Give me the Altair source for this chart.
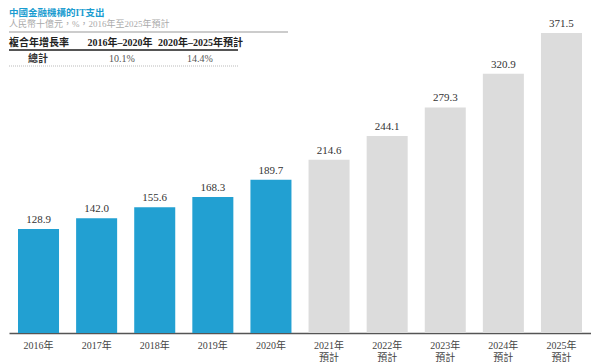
import altair as alt
import pandas as pd

years = ["2016年", "2017年", "2018年", "2019年", "2020年",
         "2021年 預計", "2022年 預計", "2023年 預計", "2024年 預計", "2025年 預計"]
values = [128.9, 142.0, 155.6, 168.3, 189.7, 214.6, 244.1, 279.3, 320.9, 371.5]
kinds = ["實際"] * 5 + ["預計"] * 5

title_text = "中國金融機構的IT支出"
subtitle_text = "人民幣十億元，%，2016年至2025年預計"
table_header = ["複合年增長率", "2016年–2020年", "2020年–2025年預計"]
table_row_label = ["總計"]
table_row_values = ["10.1%", "14.4%"]

SERIF = "Liberation Serif, DejaVu Serif, Noto Sans CJK TC"

df = pd.DataFrame({"year": years, "value": values, "kind": kinds})

W, H = 582, 325
YMAX = 371.5 * H / 300

x = alt.X("year:N", sort=years, title=None,
          scale=alt.Scale(paddingInner=0.294, paddingOuter=0.155),
          axis=alt.Axis(labelAngle=0, ticks=False, domainColor="#555555",
                        domainWidth=1.5, labelFont=SERIF, labelFontSize=10,
                        labelColor="#444444", labelPadding=7, labelLineHeight=12,
                        labelExpr="split(datum.label, ' ')"))
y = alt.Y("value:Q", axis=None, scale=alt.Scale(domain=[0, YMAX], nice=False))

bars = alt.Chart(df).mark_bar().encode(
    x=x, y=y,
    color=alt.Color("kind:N", legend=None,
                    scale=alt.Scale(domain=["實際", "預計"], range=["#22a0d2", "#dcdcdc"])),
)
labels = alt.Chart(df).mark_text(baseline="bottom", dy=-4, font=SERIF,
                                 fontSize=11, color="#333333").encode(
    x=x, y=y, text=alt.Text("value:Q", format=".1f"))

# header annotations
title = alt.Chart(pd.DataFrame({"t": [title_text]})).mark_text(
    align="left", baseline="middle", font=SERIF, fontSize=9.5,
    fontWeight="bold", color="#1a9cd0").encode(
    text="t:N", x=alt.value(0), y=alt.value(5))
sub = alt.Chart(pd.DataFrame({"t": [subtitle_text]})).mark_text(
    align="left", baseline="middle", font=SERIF, fontSize=9, color="#aaaaaa").encode(
    text="t:N", x=alt.value(0), y=alt.value(15.5))

hdr_df = pd.DataFrame({"t": table_header, "xp": [30, 111, 191.5]})
hdr = alt.Chart(hdr_df).mark_text(baseline="middle", font=SERIF, fontSize=10,
                                  fontWeight="bold", color="#222222").encode(
    text="t:N", x=alt.X("xp:Q", scale=None), y=alt.value(35))
rowlab = alt.Chart(pd.DataFrame({"t": table_row_label, "xp": [29]})).mark_text(
    baseline="middle", font=SERIF, fontSize=10, fontWeight="bold", color="#333333").encode(
    text="t:N", x=alt.X("xp:Q", scale=None), y=alt.value(51))
rowval = alt.Chart(pd.DataFrame({"t": table_row_values, "xp": [113, 191]})).mark_text(
    baseline="middle", font=SERIF, fontSize=10, color="#555555").encode(
    text="t:N", x=alt.X("xp:Q", scale=None), y=alt.value(51))

line1 = alt.Chart(pd.DataFrame({"a": [0]})).mark_rule(color="#999999", strokeWidth=1).encode(
    x=alt.value(0), x2=alt.value(279), y=alt.value(24))
line2 = alt.Chart(pd.DataFrame({"a": [0]})).mark_rule(color="#555555", strokeWidth=2).encode(
    x=alt.value(0), x2=alt.value(229), y=alt.value(42))
line3 = alt.Chart(pd.DataFrame({"a": [0]})).mark_rule(color="#bbbbbb", strokeWidth=1,
                                                      strokeDash=[1, 1]).encode(
    x=alt.value(0), x2=alt.value(229), y=alt.value(58))

chart = alt.layer(bars, labels, title, sub, hdr, rowlab, rowval, line1, line2, line3).properties(
    width=W, height=H, padding=0
).configure_view(stroke=None)

chart.save("out.html", embed_options={"renderer": "svg", "actions": False})
